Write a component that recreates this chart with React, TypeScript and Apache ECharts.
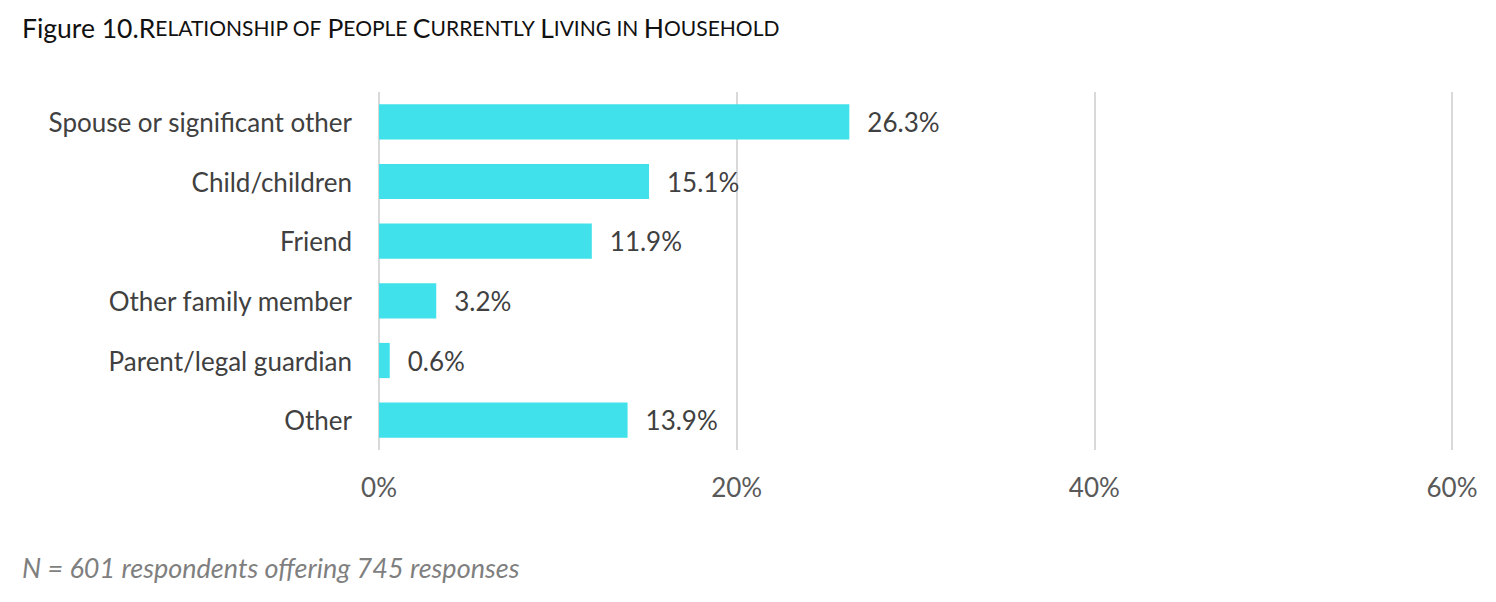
import React, { useEffect, useRef } from "react";
import * as echarts from "echarts";

const categories = [
  "Spouse or significant other",
  "Child/children",
  "Friend",
  "Other family member",
  "Parent/legal guardian",
  "Other",
];
const values = [26.3, 15.1, 11.9, 3.2, 0.6, 13.9];
const axisTicks = [0, 20, 40, 60];
const footnote = "N = 601 respondents offering 745 responses";

const FONT = "Lato, 'Open Sans', sans-serif";

export default function App() {
  const ref = useRef<HTMLDivElement>(null);
  useEffect(() => {
    if (!ref.current) return;
    const chart = echarts.init(ref.current, undefined, { renderer: "svg" });
    const big = { fontSize: 26.5, color: "#111", fontFamily: FONT, fontWeight: "normal" };
    const small = { fontSize: 21, color: "#111", fontFamily: FONT, fontWeight: "normal" };
    chart.setOption({
      animation: false,
      backgroundColor: "#fff",
      title: {
        left: 17,
        top: 9,
        text:
          "{b|Figure 10.R}{s|ELATIONSHIP OF }{b|P}{s|EOPLE }{b|C}{s|URRENTLY }{b|L}{s|IVING IN }{b|H}{s|OUSEHOLD}",
        textStyle: { fontWeight: "normal", rich: { b: big, s: small } },
      },
      graphic: [
        {
          type: "text",
          left: 22,
          top: 554,
          style: {
            text: footnote,
            fontSize: 27,
            fontStyle: "italic",
            fontFamily: FONT,
            fill: "#7f7f7f",
          },
        },
      ],
      grid: { left: 379, right: 44, top: 92, bottom: 152, containLabel: false },
      xAxis: {
        type: "value",
        min: axisTicks[0],
        max: axisTicks[axisTicks.length - 1],
        interval: 20,
        axisLine: { show: false },
        axisTick: { show: false },
        splitLine: { show: true, lineStyle: { color: "#d9d9d9", width: 2 } },
        axisLabel: {
          margin: 24,
          fontSize: 26,
          fontFamily: FONT,
          color: "#595959",
          formatter: (v: number) => v + "%",
        },
      },
      yAxis: {
        type: "category",
        inverse: true,
        data: categories,
        axisLine: { show: false },
        axisTick: { show: false },
        axisLabel: {
          margin: 27,
          fontSize: 26,
          fontFamily: FONT,
          color: "#404040",
        },
      },
      series: [
        {
          type: "bar",
          data: values,
          barCategoryGap: "41%",
          itemStyle: { color: "#41e1eb" },
          label: {
            show: true,
            position: "right",
            distance: 18,
            fontSize: 26,
            fontFamily: FONT,
            color: "#404040",
            formatter: (p: any) => p.value.toFixed(1) + "%",
          },
        },
      ],
    });
    return () => chart.dispose();
  }, []);
  return (
    <div
      ref={ref}
      style={{ position: "fixed", left: 0, top: 0, width: 1496, height: 602 }}
    />
  );
}
